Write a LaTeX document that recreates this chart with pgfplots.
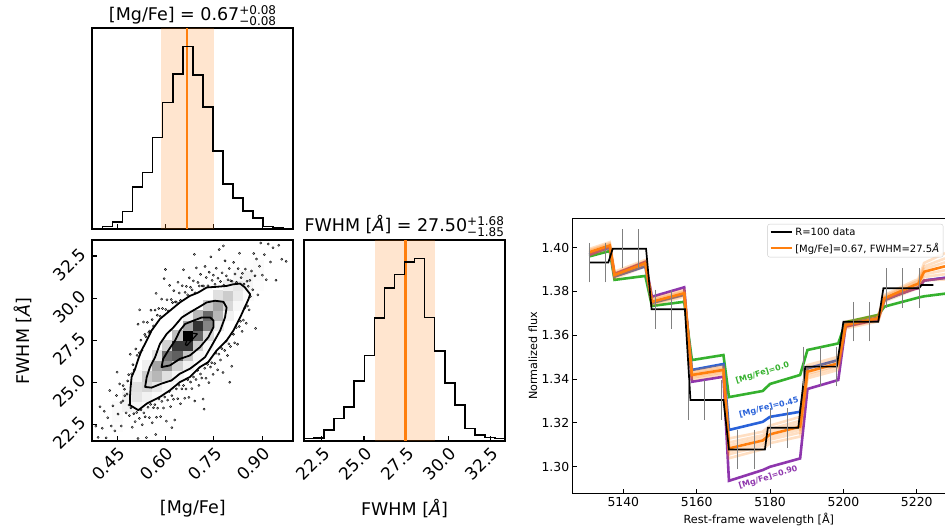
\documentclass[border=0pt]{standalone}
\usepackage{fontspec}
\setmainfont{DejaVu Sans}
\usepackage{pgfplots}
\usepackage{pgfplotstable}
\pgfplotsset{compat=1.18}

\definecolor{morange}{HTML}{FF7F0E}
\definecolor{mgreen}{HTML}{35B12E}
\definecolor{mblue}{HTML}{2962D9}
\definecolor{mpurple}{HTML}{8E36AD}
\definecolor{legedge}{HTML}{CCCCCC}
\definecolor{errgray}{HTML}{808080}
\definecolor{ptgray}{HTML}{6E6E6E}

\newcommand{\cfont}{\fontsize{17.5}{21}\selectfont}
\newcommand{\supfont}{\fontsize{12}{12}\selectfont}

\pgfplotsset{
  cornerax/.style={
    scale only axis, width=201pt, height=201pt, anchor=south west,
    axis line style={line width=2pt}, tick align=inside,
    major tick length=5pt, tick style={black, line width=1.1pt},
    tick label style={font=\fontsize{17}{20}\selectfont},
    /pgf/number format/assume math mode=true,
    xtick pos=bottom, ytick pos=left,
  },
}

% 1D histograms (left bin edge, count)
\pgfplotstableread{
x h
0.3730 2
0.4042 8
0.4354 22
0.4666 53
0.4978 126
0.5290 170
0.5602 275
0.5914 380
0.6226 466
0.6538 548
0.6850 463
0.7162 366
0.7474 235
0.7786 136
0.8098 93
0.8410 55
0.8722 33
0.9034 8
0.9346 3
0.9658 1
0.9970 1
}\histmg

\pgfplotstableread{
x h
21.450 7
22.045 9
22.640 32
23.235 67
23.830 102
24.425 180
25.020 256
25.615 369
26.210 459
26.805 500
27.400 537
27.995 548
28.590 370
29.185 269
29.780 174
30.375 107
30.970 37
31.565 17
32.160 10
32.755 7
33.350 7
}\histfw

% contours of the 2D posterior
\pgfplotstableread{
x y
0.490 23.64
0.516 23.34
0.542 23.73
0.583 24.13
0.614 24.52
0.645 25.01
0.676 25.31
0.707 25.90
0.733 26.20
0.759 26.89
0.790 27.48
0.811 28.07
0.832 28.85
0.858 29.94
0.863 30.23
0.847 30.63
0.832 30.86
0.811 30.82
0.790 30.72
0.759 30.67
0.728 30.63
0.702 30.33
0.676 30.13
0.645 29.74
0.614 29.25
0.583 28.76
0.557 28.07
0.542 27.48
0.526 26.89
0.516 26.39
0.506 25.80
0.495 25.31
0.492 24.72
0.490 24.13
}\ctouter

\pgfplotstableread{
x y
0.537 24.72
0.557 24.68
0.588 24.92
0.619 25.11
0.645 25.51
0.676 25.80
0.697 26.10
0.723 26.49
0.744 27.18
0.770 28.07
0.785 28.85
0.790 29.44
0.780 29.78
0.754 29.84
0.728 29.74
0.702 29.44
0.676 29.15
0.651 28.85
0.625 28.26
0.604 27.87
0.583 27.28
0.568 26.49
0.552 25.90
0.542 25.31
}\ctmid

\pgfplotstableread{
x y
0.588 25.90
0.614 26.00
0.645 26.39
0.676 26.59
0.707 27.08
0.733 27.67
0.749 28.26
0.749 28.66
0.739 28.85
0.713 28.85
0.687 28.66
0.661 28.46
0.645 28.07
0.630 27.48
0.609 26.89
0.593 26.39
}\ctinner

\pgfplotstableread{
x y
0.666 27.18
0.676 27.38
0.699 27.87
0.685 27.91
0.668 27.57
0.662 27.24
}\ctcore

% 2D histogram cells (centre, density relative to peak)
\pgfplotstableread{
x y v
0.4510 22.406 0.01
0.4510 23.003 0.02
0.4510 23.600 0.02
0.4822 23.600 0.05
0.4822 24.197 0.06
0.4822 24.794 0.02
0.5134 23.600 0.03
0.5134 24.197 0.10
0.5134 24.794 0.12
0.5134 25.391 0.04
0.5446 23.600 0.01
0.5446 24.197 0.05
0.5446 24.794 0.16
0.5446 25.391 0.20
0.5446 25.988 0.06
0.5758 24.197 0.02
0.5758 24.794 0.09
0.5758 25.391 0.28
0.5758 25.988 0.35
0.5758 26.585 0.10
0.6070 24.794 0.03
0.6070 25.391 0.12
0.6070 25.988 0.42
0.6070 26.585 0.55
0.6070 27.182 0.18
0.6382 25.391 0.04
0.6382 25.988 0.18
0.6382 26.585 0.62
0.6382 27.182 0.78
0.6382 27.779 0.25
0.6694 25.988 0.05
0.6694 26.585 0.22
0.6694 27.182 0.78
0.6694 27.779 1.00
0.6694 28.376 0.35
0.6694 28.973 0.06
0.7006 26.585 0.04
0.7006 27.182 0.20
0.7006 27.779 0.60
0.7006 28.376 0.80
0.7006 28.973 0.28
0.7318 27.182 0.03
0.7318 27.779 0.14
0.7318 28.376 0.48
0.7318 28.973 0.58
0.7318 29.570 0.20
0.7630 28.376 0.08
0.7630 28.973 0.28
0.7630 29.570 0.35
0.7630 30.167 0.12
0.7942 28.973 0.05
0.7942 29.570 0.15
0.7942 30.167 0.20
0.7942 30.764 0.06
0.8254 29.570 0.03
0.8254 30.167 0.08
0.8254 30.764 0.10
0.8254 31.361 0.03
0.8566 30.167 0.02
0.8566 30.764 0.04
0.8566 31.361 0.05
0.8566 31.958 0.01
0.8878 30.764 0.01
0.8878 31.361 0.02
0.8878 31.958 0.02
}\cells

% individual samples lying outside the outer contour
\pgfplotstableread{
x y
0.462 23.80
0.469 24.80
0.474 24.20
0.481 24.30
0.486 25.45
0.491 26.66
0.495 25.50
0.499 26.04
0.503 25.73
0.508 26.98
0.512 26.60
0.515 28.45
0.519 26.75
0.524 27.50
0.527 26.90
0.532 28.58
0.536 27.84
0.539 27.71
0.544 28.56
0.548 27.97
0.551 28.04
0.555 29.28
0.559 28.72
0.563 28.34
0.568 29.29
0.571 30.28
0.575 28.98
0.579 29.38
0.584 28.92
0.588 29.94
0.591 29.38
0.596 31.15
0.601 29.32
0.605 29.90
0.609 29.23
0.613 30.75
0.618 29.92
0.622 29.73
0.626 30.44
0.631 29.77
0.634 29.76
0.639 30.94
0.643 30.30
0.647 29.86
0.652 30.73
0.656 31.68
0.661 30.34
0.665 30.69
0.669 30.19
0.674 31.20
0.678 30.64
0.683 30.49
0.687 31.02
0.692 30.31
0.696 31.79
0.701 30.93
0.705 30.72
0.709 31.41
0.714 30.72
0.718 30.72
0.723 31.88
0.727 31.22
0.732 30.73
0.736 31.54
0.741 32.45
0.745 31.05
0.749 31.36
0.754 30.82
0.758 31.77
0.763 31.18
0.767 32.88
0.771 30.99
0.776 31.50
0.781 30.76
0.785 32.21
0.789 31.32
0.794 31.09
0.798 31.76
0.803 31.03
0.807 31.00
0.812 32.12
0.816 31.43
0.821 30.94
0.826 31.75
0.830 32.66
0.835 31.22
0.839 31.47
0.844 30.83
0.848 31.72
0.853 31.00
0.857 30.70
0.862 31.05
0.488 23.02
0.493 23.48
0.497 22.33
0.502 23.13
0.506 22.66
0.511 23.20
0.515 21.66
0.519 22.85
0.524 23.37
0.528 22.48
0.533 23.18
0.537 22.95
0.541 21.71
0.546 23.51
0.550 22.90
0.554 23.69
0.559 22.59
0.563 23.48
0.567 23.67
0.572 22.92
0.576 23.46
0.580 24.00
0.585 22.96
0.589 23.86
0.594 23.47
0.598 24.12
0.603 22.69
0.607 23.94
0.612 24.45
0.616 23.55
0.620 24.20
0.625 23.99
0.629 22.76
0.634 24.60
0.638 24.02
0.642 24.82
0.647 23.72
0.651 24.61
0.656 24.81
0.660 24.05
0.664 24.60
0.669 25.15
0.673 24.10
0.678 25.01
0.682 24.62
0.687 25.31
0.691 23.88
0.695 25.16
0.700 25.70
0.704 24.81
0.709 25.49
0.713 25.25
0.717 24.00
0.722 25.83
0.726 25.24
0.731 26.06
0.735 24.98
0.740 25.90
0.744 26.16
0.748 25.47
0.753 26.11
0.757 26.72
0.762 25.74
0.766 26.67
0.771 26.32
0.775 27.00
0.779 25.58
0.784 26.89
0.788 27.43
0.793 26.59
0.797 27.28
0.802 27.12
0.806 25.95
0.811 27.85
0.815 27.34
0.820 28.25
0.824 27.26
0.829 28.31
0.833 28.62
0.838 28.02
0.842 28.69
0.847 29.42
0.851 28.50
0.855 29.53
0.860 29.30
0.864 30.10
0.867 31.61
0.871 30.49
0.874 32.65
0.878 31.32
0.883 32.32
0.887 30.19
0.892 31.89
0.896 33.27
0.901 31.36
0.907 32.58
0.913 31.09
0.919 33.21
0.926 32.14
0.934 32.99
0.943 31.06
0.952 33.14
0.961 32.31
0.975 32.18
0.384 22.39
0.391 21.72
0.397 23.54
0.404 22.27
0.410 23.28
0.416 21.70
0.421 22.89
0.427 24.51
0.432 22.40
0.437 23.60
0.443 22.11
0.448 24.21
0.453 23.11
0.458 24.90
0.463 22.40
0.468 23.89
0.473 24.59
0.478 23.18
0.483 25.08
0.487 23.65
0.520 29.30
0.600 31.70
0.690 32.60
0.780 33.10
0.620 22.30
0.720 23.40
0.800 25.00
0.880 28.20
0.450 25.60
0.570 21.90
}\samples

% spectrum: model curves for three [Mg/Fe] values and the best fit (with spread)
\pgfplotstableread{
lam green blue purple orange spread
5130.7 1.3960 1.3970 1.3967 1.3979 0.0015
5136.3 1.3985 1.4000 1.4005 1.4010 0.0015
5137.6 1.3853 1.3868 1.3880 1.3875 0.0015
5146.0 1.3871 1.3915 1.3935 1.3929 0.0015
5147.8 1.3734 1.3748 1.3776 1.3753 0.0015
5156.6 1.3753 1.3785 1.3819 1.3792 0.0015
5158.7 1.3487 1.3442 1.3388 1.3419 0.0020
5167.3 1.3510 1.3469 1.3411 1.3442 0.0020
5168.8 1.3318 1.3168 1.2936 1.3084 0.0045
5178.0 1.3346 1.3205 1.2985 1.3120 0.0040
5180.0 1.3378 1.3228 1.3000 1.3148 0.0040
5188.2 1.3419 1.3251 1.3038 1.3183 0.0045
5190.2 1.3533 1.3449 1.3355 1.3434 0.0030
5198.6 1.3563 1.3487 1.3396 1.3472 0.0030
5200.6 1.3660 1.3650 1.3640 1.3647 0.0015
5209.5 1.3693 1.3680 1.3672 1.3678 0.0015
5211.2 1.3731 1.3760 1.3765 1.3769 0.0015
5219.5 1.3768 1.3815 1.3812 1.3830 0.0020
5220.4 1.3772 1.3818 1.3815 1.3835 0.0020
5222.0 1.3778 1.3850 1.3850 1.3890 0.0040
5227.7 1.3790 1.3862 1.3862 1.3915 0.0060
}\spec

\pgfplotstableread{
lam f
5130.7 1.3932
5135.9 1.3932
5137.1 1.3995
5146.2 1.3995
5147.7 1.3719
5156.8 1.3719
5158.3 1.3305
5167.3 1.3305
5168.8 1.3079
5178.6 1.3079
5179.4 1.3178
5187.7 1.3178
5189.6 1.3457
5198.2 1.3457
5200.0 1.3662
5209.5 1.3662
5210.9 1.3815
5220.6 1.3815
5221.3 1.3830
5224.5 1.3830
}\dataline

\pgfplotstableread{
lam f
5130.7 1.3932
5135.2 1.3932
5139.7 1.3995
5144.2 1.3995
5148.7 1.3719
5153.2 1.3719
5157.7 1.3305
5162.2 1.3305
5166.7 1.3305
5171.2 1.3079
5175.7 1.3079
5180.2 1.3178
5184.7 1.3178
5189.2 1.3457
5193.7 1.3457
5198.2 1.3457
5202.7 1.3662
5207.2 1.3662
5211.7 1.3815
5216.2 1.3815
5220.7 1.3815
}\datapts

\begin{document}
\begin{tikzpicture}
\useasboundingbox (0,0) rectangle (945pt,532pt);

% ---- [Mg/Fe] marginal
\begin{axis}[cornerax, at={(92.3pt,302.7pt)},
  xmin=0.373, xmax=0.997, ymin=0, ymax=603,
  xtick={0.45,0.60,0.75,0.90}, xticklabels={}, ytick=\empty]
\addplot[draw=none, fill=morange, fill opacity=0.2] coordinates {(0.585,0) (0.752,0) (0.752,603) (0.585,603)} -- cycle;
\addplot[morange, line width=2.5pt] coordinates {(0.667,0) (0.667,603)};
\addplot[const plot, black, line width=1.6pt] table[x=x, y=h] {\histmg};
\end{axis}
\node[anchor=base, font=\cfont] at (192.8pt,511pt)
  {[Mg/Fe] = 0.67${}^{\mbox{\supfont +0.08}}_{\mbox{\supfont −0.08}}$};

% ---- 2D posterior
\begin{axis}[cornerax, at={(92.3pt,91pt)},
  xmin=0.373, xmax=0.997, ymin=21.51, ymax=33.45,
  xtick={0.45,0.60,0.75,0.90}, xticklabels={0.45,0.60,0.75,0.90},
  ytick={22.5,25,27.5,30,32.5}, yticklabels={22.5,25.0,27.5,30.0,32.5},
  xticklabel style={rotate=45, anchor=north east},
  yticklabel style={rotate=45, anchor=south east},
  colormap={bw}{gray(0cm)=(1); gray(1cm)=(0)},
  point meta min=0, point meta max=1, clip marker paths=true]
\addplot[scatter, only marks, mark=square*, mark size=5.05pt, point meta=explicit,
  scatter/use mapped color={draw=mapped color, fill=mapped color}]
  table[x=x, y=y, meta=v] {\cells};
\addplot[only marks, mark=*, mark size=1.1pt,
  mark options={draw=none, fill=ptgray, fill opacity=0.4}] table {\samples};
\addplot[black, line width=1.8pt, line join=round] table {\ctouter} -- cycle;
\addplot[black, line width=1.8pt, line join=round] table {\ctmid} -- cycle;
\addplot[black, line width=1.8pt, line join=round] table {\ctinner} -- cycle;
\addplot[black, line width=1.2pt, line join=round] table {\ctcore} -- cycle;
\end{axis}
\node[font=\cfont] at (192.8pt,23.5pt) {[Mg/Fe]};
\node[font=\cfont, rotate=90] at (23pt,191pt) {FWHM [\textit{Å}]};

% ---- FWHM marginal
\begin{axis}[cornerax, at={(304pt,91.3pt)},
  xmin=21.45, xmax=33.35, ymin=0, ymax=604,
  xtick={22.5,25,27.5,30,32.5}, xticklabels={22.5,25.0,27.5,30.0,32.5},
  ytick=\empty, xticklabel style={rotate=45, anchor=north east}]
\addplot[draw=none, fill=morange, fill opacity=0.2] coordinates {(25.65,0) (29.18,0) (29.18,604) (25.65,604)} -- cycle;
\addplot[morange, line width=2.5pt] coordinates {(27.47,0) (27.47,604)};
\addplot[const plot, black, line width=1.6pt] table[x=x, y=h] {\histfw};
\end{axis}
\node[anchor=base, font=\cfont] at (404.5pt,300pt)
  {FWHM [\textit{Å}] = 27.50${}^{\mbox{\supfont +1.68}}_{\mbox{\supfont −1.85}}$};
\node[font=\cfont] at (404.5pt,23pt) {FWHM [\textit{Å}]};

% ---- spectrum
\begin{axis}[scale only axis, width=372.3pt, height=275pt, at={(572.7pt,38.7pt)}, anchor=south west,
  xmin=5126.2, xmax=5227.7, ymin=1.2879, ymax=1.4134, clip=false,
  axis line style={draw=none},
  xtick={5140,5160,5180,5200,5220}, xticklabels={5140,5160,5180,5200,5220},
  ytick={1.30,1.32,1.34,1.36,1.38,1.40}, yticklabels={1.30,1.32,1.34,1.36,1.38,1.40},
  xtick pos=bottom, ytick pos=left, tick align=inside, major tick length=4pt,
  tick style={black, line width=1pt},
  tick label style={font=\fontsize{12.4}{14}\selectfont},
  /pgf/number format/assume math mode=true,
  legend image code/.code={\draw[#1] (0pt,0pt) -- (21.7pt,0pt);},
  legend style={at={(1,1)}, anchor=north east, xshift=-1.7pt, yshift=-5.7pt,
    draw=legedge, rounded corners=2pt, fill=white, fill opacity=0.8, text opacity=1,
    font=\fontsize{10}{12}\selectfont, inner xsep=2pt, inner ysep=1.5pt, row sep=2pt},
  legend cell align=left]
\addlegendimage{black, line width=1.8pt}
\addlegendentry{R=100 data}
\addlegendimage{morange, line width=2pt}
\addlegendentry{[Mg/Fe]=0.67, FWHM=27.5\textit{Å}}
\addplot[mgreen, line width=2.6pt, forget plot] table[x=lam, y=green] {\spec};
\addplot[mblue, line width=2.6pt, forget plot] table[x=lam, y=blue] {\spec};
\addplot[mpurple, line width=2.6pt, forget plot] table[x=lam, y=purple] {\spec};
\pgfplotsinvokeforeach{-1,-0.6,-0.3,0.3,0.6,1}{
  \addplot[morange, opacity=0.25, line width=2.6pt, forget plot]
    table[x=lam, y expr=\thisrow{orange}+#1*\thisrow{spread}] {\spec};
}
\addplot[morange, line width=2.6pt, forget plot] table[x=lam, y=orange] {\spec};
\addplot[black, line width=1.7pt, forget plot] table[x=lam, y=f] {\dataline};
\addplot[forget plot, errgray, line width=1.3pt, draw=none, mark=none,
  error bars/.cd, y dir=both, y fixed=0.008,
  error bar style={draw=errgray, solid, line width=1.3pt},
  error mark options={draw=errgray, solid, mark size=2.2pt, line width=1.2pt}]
  table[x=lam, y=f] {\datapts};
\draw[line width=1.3pt] (rel axis cs:1,1) -- (rel axis cs:0,1) -- (rel axis cs:0,0) -- (rel axis cs:1,0);
\node[mgreen, rotate=17, font=\fontsize{8}{9}\selectfont\bfseries] at (axis cs:5177.96,1.3428) {[Mg/Fe]=0.0};
\node[mblue, rotate=14, font=\fontsize{8}{9}\selectfont\bfseries] at (axis cs:5179.7,1.3270) {[Mg/Fe]=0.45};
\node[mpurple, rotate=17, font=\fontsize{8}{9}\selectfont\bfseries] at (axis cs:5179.5,1.2951) {[Mg/Fe]=0.90};
\end{axis}
\node[font=\fontsize{11.2}{13}\selectfont, rotate=90] at (533pt,176.2pt) {Normalized flux};
\node[anchor=base, font=\fontsize{11.2}{13}\selectfont] at (758.9pt,8pt) {Rest-frame wavelength [Å]};
\end{tikzpicture}
\end{document}
